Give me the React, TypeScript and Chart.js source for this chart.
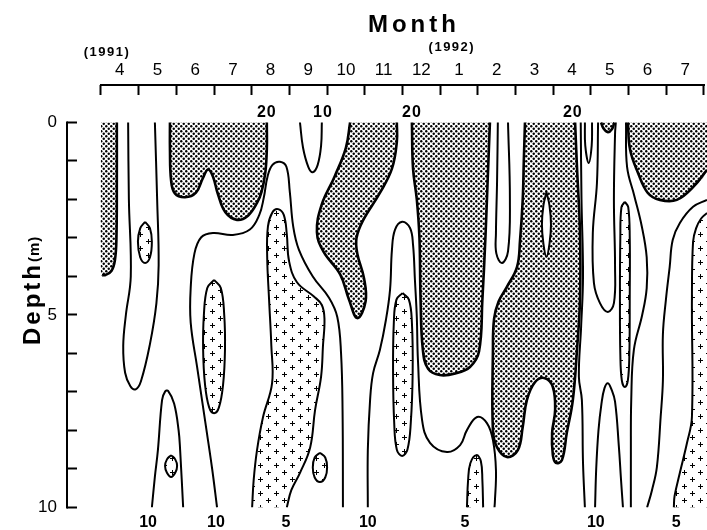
import React, { useEffect, useRef } from 'react';
import { Chart, registerables } from 'chart.js';

Chart.register(...registerables);

type Pt = [number, number];

// ---------- axis / label data ----------
const monthLabels = ['4', '5', '6', '7', '8', '9', '10', '11', '12', '1', '2', '3', '4', '5', '6', '7'];
const monthTickValues = Array.from({ length: 33 }, (_, i) => i / 2); // boundaries + label centres
const yearLabels = ['(1991)', '(1992)'];
const yearLabelMonths = [0.16, 9.31];
const yearLabelDepths = [-1.73, -1.86];
const depthTickValues = [0, 1, 2, 3, 4, 5, 6, 7, 8, 9, 10];
const depthLabelValues = [0, 5, 10];
const topLabelMonths = [4.4, 5.89, 8.25, 12.52];
const topLabelTexts = ['20', '10', '20', '20'];
const topLabelDepth = -0.14;
const bottomLabelMonths = [1.25, 3.05, 4.91, 7.08, 9.66, 13.13, 15.26];
const bottomLabelTexts = ['10', '10', '5', '10', '5', '10', '5'];

const X_MIN = -0.902;
const X_MAX = 16.08;
const Y_MIN = -0.974;
const Y_MAX = 10;

// ---------- contours: [month since Apr-1991, depth m] ----------
// > 20 (dotted) regions
const warm1: Pt[] = [[0.42, 0], [0.42, 1.5], [0.41, 3.0], [0.37, 3.57], [0.28, 3.85], [0.12, 3.96], [0.03, 3.97]];
const warm1Corners: Pt[] = [[0, 3.97], [0, 0]];
const warm2: Pt[] = [[1.83, 0], [1.83, 0.7], [1.86, 1.5], [1.96, 1.84], [2.23, 1.94], [2.52, 1.82], [2.7, 1.45], [2.84, 1.22], [2.97, 1.4], [3.1, 1.85], [3.3, 2.33], [3.61, 2.53], [3.9, 2.42], [4.14, 2.09], [4.26, 1.8], [4.36, 1.3], [4.4, 0.7], [4.4, 0]];
const warm3: Pt[] = [[6.61, 0], [6.5, 0.65], [6.2, 1.4], [5.85, 2.15], [5.73, 2.85], [5.9, 3.35], [6.35, 3.95], [6.58, 4.6], [6.8, 5.08], [7.02, 4.65], [6.98, 4.05], [6.8, 3.4], [6.78, 3.0], [6.95, 2.55], [7.4, 1.83], [7.72, 1.2], [7.85, 0.5], [7.85, 0]];
const warm4: Pt[] = [[8.25, 0], [8.28, 1.2], [8.38, 2.0], [8.45, 3.0], [8.48, 4.6], [8.54, 5.9], [8.68, 6.4], [8.99, 6.56], [9.4, 6.52], [9.79, 6.35], [10.03, 5.95], [10.12, 4.6], [10.2, 3.0], [10.26, 1.5], [10.32, 0]];
const warm5: Pt[] = [[11.25, 0], [11.22, 0.97], [11.19, 2.01], [11.12, 3.05], [11.04, 3.75], [10.77, 4.27], [10.55, 4.65], [10.43, 5.1], [10.4, 5.91], [10.4, 8.0], [10.51, 8.44], [10.77, 8.69], [11.06, 8.51], [11.19, 7.91], [11.3, 7.21], [11.52, 6.74], [11.78, 6.64], [11.99, 6.87], [12.05, 7.47], [11.97, 8.06], [11.99, 8.64], [12.07, 8.84], [12.23, 8.77], [12.36, 8.06], [12.52, 7.21], [12.63, 5.91], [12.71, 4.61], [12.71, 2.87], [12.63, 1.16], [12.58, 0]];
const warm5Hole: Pt[] = [[11.82, 1.81], [11.9, 2.15], [11.94, 2.65], [11.9, 3.15], [11.82, 3.49], [11.74, 3.15], [11.7, 2.65], [11.74, 2.15], [11.82, 1.81]];
const warmCup: Pt[] = [[13.27, 0], [13.33, 0.15], [13.45, 0.25], [13.56, 0.17], [13.62, 0]];
const warm6: Pt[] = [[13.98, 0], [14.04, 0.71], [14.25, 1.31], [14.51, 1.83], [14.83, 2.01], [15.28, 2.01], [15.71, 1.68], [16.08, 1.23]];
const warm6Corners: Pt[] = [[16.08, 0]];

// < 5 (cross) regions
const cold1: Pt[] = [[1.17, 2.58], [1.3, 2.75], [1.35, 3.1], [1.3, 3.5], [1.17, 3.65], [1.04, 3.5], [0.98, 3.1], [1.04, 2.75], [1.17, 2.58]];
const cold2: Pt[] = [[3.0, 4.09], [3.18, 4.3], [3.27, 5.0], [3.29, 5.9], [3.24, 6.8], [3.13, 7.4], [3.0, 7.55], [2.87, 7.4], [2.76, 6.8], [2.71, 5.9], [2.73, 5.0], [2.82, 4.3], [3.0, 4.09]];
const cold3: Pt[] = [[4.01, 10], [4.05, 9.3], [4.14, 8.51], [4.3, 7.65], [4.54, 6.77], [4.52, 5.8], [4.46, 4.6], [4.41, 3.5], [4.43, 2.7], [4.55, 2.33], [4.7, 2.25], [4.85, 2.4], [4.93, 2.9], [4.99, 3.6], [5.2, 4.15], [5.65, 4.52], [5.86, 4.74], [5.93, 5.1], [5.89, 5.8], [5.84, 6.6], [5.68, 7.47], [5.55, 8.44], [5.28, 9.1], [5.05, 9.55], [4.93, 10]];
const cold4: Pt[] = [[1.86, 8.64], [1.97, 8.75], [2.02, 8.92], [1.97, 9.1], [1.86, 9.21], [1.75, 9.1], [1.7, 8.92], [1.75, 8.75], [1.86, 8.64]];
const cold5: Pt[] = [[5.81, 8.58], [5.95, 8.7], [6.0, 8.96], [5.95, 9.22], [5.81, 9.34], [5.67, 9.22], [5.62, 8.96], [5.67, 8.7], [5.81, 8.58]];
const cold6: Pt[] = [[8.0, 4.43], [8.17, 4.6], [8.25, 5.2], [8.27, 6.5], [8.22, 7.8], [8.13, 8.5], [7.99, 8.66], [7.85, 8.5], [7.78, 7.8], [7.75, 6.5], [7.77, 5.2], [7.84, 4.6], [8.0, 4.43]];
const cold7: Pt[] = [[9.71, 10], [9.74, 9.3], [9.8, 8.85], [9.96, 8.64], [10.08, 8.8], [10.12, 9.3], [10.14, 10]];
const cold8: Pt[] = [[13.9, 2.06], [13.99, 2.2], [14.03, 3.0], [14.03, 4.5], [14.02, 6.0], [13.98, 6.7], [13.9, 6.87], [13.82, 6.7], [13.78, 6.0], [13.77, 4.5], [13.78, 3.0], [13.81, 2.2], [13.9, 2.06]];
const cold9: Pt[] = [[16.08, 2.35], [15.92, 2.5], [15.79, 2.75], [15.71, 3.1], [15.68, 4.6], [15.68, 7.65], [15.55, 8.32], [15.36, 9.1], [15.22, 9.7], [15.2, 10]];
const cold9Corners: Pt[] = [[16.08, 10]];

// other isolines (10 and 15)
const uLeft: Pt[] = [[0.72, 0], [0.74, 2.0], [0.79, 4.0], [0.66, 5.0], [0.59, 5.8], [0.64, 6.5], [0.78, 6.85], [0.92, 6.93], [1.06, 6.72], [1.3, 5.75], [1.47, 4.7], [1.53, 3.7], [1.49, 2.0], [1.43, 0]];
const arch1: Pt[] = [[1.35, 10], [1.43, 9.2], [1.51, 8.51], [1.62, 7.21], [1.7, 6.99], [1.78, 6.97], [1.94, 7.3], [2.06, 8.0], [2.1, 8.51], [2.18, 10]];
const arch2: Pt[] = [[3.08, 10], [2.95, 9.0], [2.81, 8.06], [2.55, 6.35], [2.38, 5.2], [2.38, 4.3], [2.48, 3.4], [2.66, 2.98], [2.97, 2.87], [3.5, 2.92], [3.95, 2.78], [4.2, 2.4], [4.32, 1.95], [4.42, 1.4], [4.55, 1.1], [4.75, 1.02], [4.92, 1.15], [5.01, 1.8], [5.1, 2.7], [5.25, 3.3], [5.62, 4.0], [6.05, 4.55], [6.27, 5.05], [6.37, 6.0], [6.41, 7.5], [6.42, 10]];
const tenTop: Pt[] = [[5.28, 0], [5.36, 0.65], [5.5, 1.15], [5.62, 1.29], [5.75, 1.1], [5.84, 0.6], [5.86, 0]];
const loop10: Pt[] = [[7.08, 10], [7.08, 8.51], [7.14, 7.21], [7.22, 6.51], [7.4, 5.91], [7.56, 5.13], [7.67, 4.34], [7.72, 3.31], [7.8, 2.79], [7.99, 2.58], [8.2, 2.74], [8.28, 3.18], [8.33, 4.09], [8.38, 5.05], [8.41, 6.17], [8.52, 7.73], [8.73, 8.32], [9.18, 8.56], [9.53, 8.38], [9.71, 7.99], [9.98, 7.65], [10.24, 7.81], [10.4, 8.25], [10.48, 9.03], [10.45, 9.88], [10.44, 10]];
const tongue1: Pt[] = [[10.53, 0], [10.51, 1.5], [10.48, 2.87], [10.49, 3.4], [10.64, 3.65], [10.8, 3.35], [10.85, 2.0], [10.8, 0]];
const line15: Pt[] = [[12.73, 0], [12.75, 2.0], [12.79, 4.0], [12.74, 5.3], [12.68, 6.6], [12.76, 7.21], [12.79, 8.84], [12.84, 10]];
const tongue2: Pt[] = [[12.84, 0], [12.85, 0.6], [12.94, 1.05], [13.02, 0.6], [13.03, 0]];
const tongue3: Pt[] = [[13.19, 0], [13.16, 1.57], [13.05, 2.87], [13.08, 4.17], [13.24, 4.69], [13.45, 4.92], [13.61, 4.69], [13.64, 3.75], [13.61, 2.01], [13.64, 0.3], [13.66, 0]];
const line14: Pt[] = [[13.93, 0], [13.96, 1.16], [14.15, 1.9], [14.35, 2.7], [14.48, 3.5], [14.48, 4.3], [14.36, 5.0], [14.14, 5.9], [14.07, 7.2], [14.06, 8.6], [14.06, 10]];
const arch3: Pt[] = [[13.11, 10], [13.14, 9.0], [13.2, 8.0], [13.28, 7.3], [13.36, 6.9], [13.45, 6.77], [13.54, 6.92], [13.64, 7.25], [13.74, 8.4], [13.8, 9.3], [13.85, 10]];
const line10R: Pt[] = [[16.08, 2.01], [15.71, 2.19], [15.36, 2.61], [15.17, 3.05], [15.09, 3.75], [14.99, 4.6], [14.91, 5.5], [14.91, 6.7], [14.85, 7.65], [14.75, 8.95], [14.62, 9.55], [14.49, 10]];

const warmRegions: Pt[][] = [warm2, warm3, warm4, warm5, warmCup];
const coldRegions: Pt[][] = [cold1, cold2, cold3, cold4, cold5, cold6, cold7, cold8];
const plainLines: Pt[][] = [uLeft, arch1, arch2, tenTop, loop10, tongue1, line15, tongue2, tongue3, line14, arch3, line10R];

const FONT = '"Liberation Sans", Arial, Helvetica, sans-serif';

const toXY = (pts: Pt[]) => pts.map(([x, y]) => ({ x, y }));

function makeDots(ctx: CanvasRenderingContext2D) {
  const t = document.createElement('canvas');
  t.width = 5;
  t.height = 5;
  const c = t.getContext('2d')!;
  c.fillStyle = '#000';
  c.beginPath();
  c.arc(1.25, 1.25, 1.2, 0, Math.PI * 2);
  c.fill();
  c.beginPath();
  c.arc(3.75, 3.75, 1.2, 0, Math.PI * 2);
  c.fill();
  return ctx.createPattern(t, 'repeat');
}

function makePlus(ctx: CanvasRenderingContext2D) {
  const t = document.createElement('canvas');
  t.width = 16;
  t.height = 14;
  const c = t.getContext('2d')!;
  c.fillStyle = '#000';
  const marks: Pt[] = [[4, 3], [12, 10]];
  marks.forEach(([cx, cy]) => {
    c.fillRect(cx - 2, cy, 5, 1);
    c.fillRect(cx, cy - 2, 1, 5);
  });
  return ctx.createPattern(t, 'repeat');
}

const zeroPad = (s: any) => {
  s.paddingLeft = 0;
  s.paddingRight = 0;
  s.paddingTop = 0;
  s.paddingBottom = 0;
};

const decor = {
  id: 'decor',
  afterDraw(chart: any) {
    const { ctx, chartArea, scales } = chart;
    const x = scales.x;
    const y = scales.y;
    ctx.save();
    ctx.strokeStyle = '#000';
    ctx.fillStyle = '#000';
    ctx.lineWidth = 2;
    ctx.beginPath();
    ctx.moveTo(x.getPixelForValue(0) - 1, chartArea.top);
    ctx.lineTo(x.getPixelForValue(16) + 1, chartArea.top);
    ctx.stroke();
    ctx.beginPath();
    ctx.moveTo(chartArea.left, y.getPixelForValue(0) - 1);
    ctx.lineTo(chartArea.left, y.getPixelForValue(10) + 1);
    ctx.stroke();

    // title
    ctx.textAlign = 'center';
    ctx.textBaseline = 'alphabetic';
    ctx.font = `bold 24px ${FONT}`;
    (ctx as any).letterSpacing = '4px';
    ctx.fillText('Month', x.getPixelForValue(8.25) + 2, 32);

    // years
    ctx.font = `bold 13px ${FONT}`;
    (ctx as any).letterSpacing = '1.5px';
    yearLabels.forEach((t, i) => {
      ctx.fillText(t, x.getPixelForValue(yearLabelMonths[i]), y.getPixelForValue(yearLabelDepths[i]));
    });

    // isoline labels at top
    ctx.font = `bold 16px ${FONT}`;
    (ctx as any).letterSpacing = '1px';
    topLabelTexts.forEach((t, i) => {
      ctx.fillText(t, x.getPixelForValue(topLabelMonths[i]), y.getPixelForValue(topLabelDepth));
    });

    // y title
    ctx.translate(40, 345);
    ctx.rotate(-Math.PI / 2);
    ctx.textAlign = 'left';
    ctx.font = `bold 24px ${FONT}`;
    (ctx as any).letterSpacing = '3px';
    ctx.fillText('Depth', 0, 0);
    const w = ctx.measureText('Depth').width;
    ctx.font = `bold 15px ${FONT}`;
    (ctx as any).letterSpacing = '1px';
    ctx.fillText('(m)', w, -1);
    ctx.restore();
  },
};

export default function App() {
  const ref = useRef<HTMLCanvasElement>(null);
  useEffect(() => {
    const canvas = ref.current!;
    const ctx = canvas.getContext('2d')!;
    const dots = makeDots(ctx);
    const plus = makePlus(ctx);

    const base = { xAxisID: 'x', yAxisID: 'y', pointRadius: 0, pointHoverRadius: 0, tension: 0.4 };
    const datasets: any[] = [];

    // edge-attached warm/cold fills (no outline on the plot edges)
    const edgeFills: [Pt[], Pt[], any][] = [
      [warm1, warm1Corners, dots],
      [warm6, warm6Corners, dots],
      [cold9, cold9Corners, plus],
    ];
    edgeFills.forEach(([pts, corners, pat]) => {
      datasets.push({ ...base, data: toXY(pts.concat(corners)), fill: 'shape', backgroundColor: pat, borderColor: 'rgba(0,0,0,0)', borderWidth: 0, order: 3 });
      datasets.push({ ...base, data: toXY(pts), fill: false, borderColor: '#000', borderWidth: pat === dots ? 2.6 : 2, order: 0 });
    });

    warmRegions.forEach((pts) => {
      datasets.push({ ...base, data: toXY(pts), fill: 'shape', backgroundColor: dots, borderColor: '#000', borderWidth: 2.6, order: 2 });
    });
    datasets.push({ ...base, data: toXY(warm5Hole), fill: 'shape', backgroundColor: '#fff', borderColor: '#000', borderWidth: 2, order: 1 });
    coldRegions.forEach((pts) => {
      datasets.push({ ...base, data: toXY(pts), fill: 'shape', backgroundColor: plus, borderColor: '#000', borderWidth: 2, order: 2 });
    });
    plainLines.forEach((pts) => {
      datasets.push({ ...base, data: toXY(pts), fill: false, borderColor: '#000', borderWidth: 2, order: 0 });
    });

    const chart = new Chart(canvas, {
      type: 'line',
      data: { datasets },
      options: {
        animation: false,
        responsive: false,
        devicePixelRatio: 1,
        events: [],
        layout: { padding: 0 },
        plugins: { legend: { display: false }, tooltip: { enabled: false }, title: { display: false } },
        scales: {
          x: {
            type: 'linear',
            position: 'top',
            min: X_MIN,
            max: X_MAX,
            afterBuildTicks: (s: any) => { s.ticks = monthTickValues.map((v) => ({ value: v })); },
            afterFit: (s: any) => { s.height = 85; zeroPad(s); },
            ticks: {
              autoSkip: false,
              maxRotation: 0,
              minRotation: 0,
              padding: 14,
              color: '#000',
              font: { family: FONT, size: 17 },
              callback: (v: any) => {
                const n = Number(v);
                return Number.isInteger(n) ? '' : monthLabels[Math.floor(n)] ?? '';
              },
            },
            grid: {
              display: true,
              drawOnChartArea: false,
              drawTicks: true,
              tickLength: -10,
              tickWidth: 2,
              tickColor: (c: any) => (c.tick && Number.isInteger(c.tick.value) ? '#000' : 'rgba(0,0,0,0)'),
            },
            border: { display: false },
          },
          xb: {
            type: 'linear',
            position: 'bottom',
            min: X_MIN,
            max: X_MAX,
            afterBuildTicks: (s: any) => { s.ticks = bottomLabelMonths.map((v) => ({ value: v })); },
            afterFit: (s: any) => { s.height = 22.5; zeroPad(s); },
            ticks: {
              autoSkip: false,
              maxRotation: 0,
              minRotation: 0,
              padding: 5,
              color: '#000',
              font: { family: FONT, size: 16, weight: 'bold' },
              callback: (_v: any, i: number) => bottomLabelTexts[i],
            },
            grid: { display: false, drawTicks: false, tickLength: 0 },
            border: { display: false },
          },
          y: {
            type: 'linear',
            position: 'left',
            reverse: true,
            min: Y_MIN,
            max: Y_MAX,
            afterBuildTicks: (s: any) => { s.ticks = depthTickValues.map((v) => ({ value: v })); },
            afterFit: (s: any) => { s.width = 67; zeroPad(s); },
            ticks: {
              autoSkip: false,
              padding: 20,
              color: '#000',
              font: { family: FONT, size: 17 },
              callback: (v: any) => (depthLabelValues.includes(Number(v)) ? String(v) : ''),
            },
            grid: { display: true, drawOnChartArea: false, drawTicks: true, tickLength: -10, tickWidth: 2, tickColor: '#000' },
            border: { display: false },
          },
        },
      } as any,
      plugins: [decor],
    } as any);
    return () => chart.destroy();
  }, []);

  return (
    <div style={{ position: 'fixed', left: 0, top: 0, width: 707, height: 530, background: '#fff' }}>
      <canvas ref={ref} width={707} height={530} style={{ width: 707, height: 530, display: 'block' }} />
    </div>
  );
}
